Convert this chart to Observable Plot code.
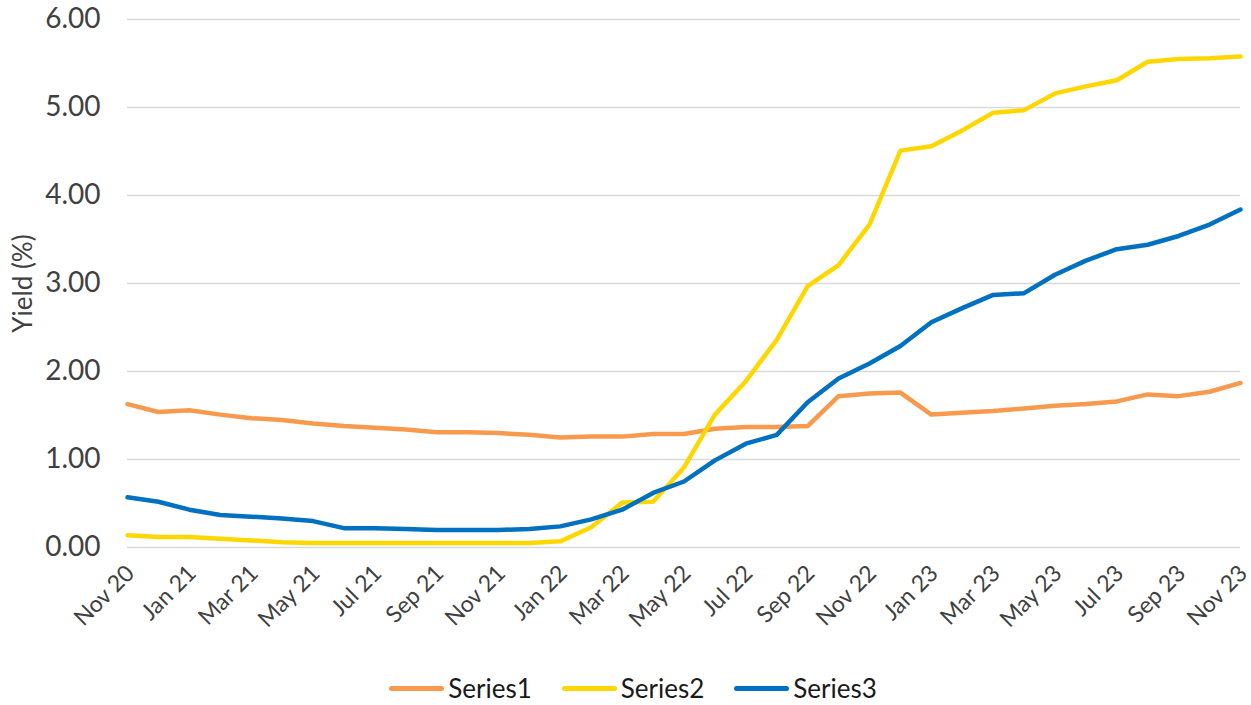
<!DOCTYPE html>
<html><head><meta charset="utf-8">
<script src="https://cdn.jsdelivr.net/npm/d3@7"></script>
<script src="https://cdn.jsdelivr.net/npm/@observablehq/plot@0.6"></script>
<style>
html,body{margin:0;padding:0;background:#fff;}
body{font-family:Lato,"Open Sans",sans-serif;width:1251px;overflow:hidden;}
#legend{display:flex;justify-content:center;align-items:center;height:45px;padding-top:11px;padding-left:15px;box-sizing:border-box;}
.item{display:flex;align-items:center;margin:0 15px;font-size:26px;color:#1a1a1a;}
.sw{width:55px;height:5px;border-radius:3px;margin-right:4px;}
</style></head><body>
<div id="chart"></div>
<div id="legend"></div>
<script>
const months = ["Nov 20","Dec 20","Jan 21","Feb 21","Mar 21","Apr 21","May 21","Jun 21","Jul 21","Aug 21","Sep 21","Oct 21","Nov 21","Dec 21","Jan 22","Feb 22","Mar 22","Apr 22","May 22","Jun 22","Jul 22","Aug 22","Sep 22","Oct 22","Nov 22","Dec 22","Jan 23","Feb 23","Mar 23","Apr 23","May 23","Jun 23","Jul 23","Aug 23","Sep 23","Oct 23","Nov 23"];
const seriesNames = ["Series1","Series2","Series3"];
const series1 = [1.63,1.54,1.56,1.51,1.47,1.45,1.41,1.38,1.36,1.34,1.31,1.31,1.30,1.28,1.25,1.26,1.26,1.29,1.29,1.35,1.37,1.37,1.38,1.72,1.75,1.76,1.51,1.53,1.55,1.58,1.61,1.63,1.66,1.74,1.72,1.77,1.87];
const series2 = [0.14,0.12,0.12,0.10,0.08,0.06,0.05,0.05,0.05,0.05,0.05,0.05,0.05,0.05,0.07,0.23,0.51,0.52,0.91,1.51,1.89,2.36,2.97,3.21,3.67,4.51,4.56,4.74,4.94,4.97,5.16,5.24,5.31,5.52,5.55,5.56,5.58];
const series3 = [0.57,0.52,0.43,0.37,0.35,0.33,0.30,0.22,0.22,0.21,0.20,0.20,0.20,0.21,0.24,0.32,0.43,0.62,0.75,0.99,1.18,1.28,1.65,1.92,2.09,2.29,2.56,2.72,2.87,2.89,3.10,3.26,3.39,3.44,3.54,3.67,3.84];
const colors = ["#F79A4E","#FFD700","#0070C0"];
const yTicks = [0,1,2,3,4,5,6];
const xTicks = months.filter((d,i)=>i%2===0);

const data = [];
[series1,series2,series3].forEach((vals,k)=>vals.forEach((v,i)=>data.push({month:months[i],value:v,series:seriesNames[k]})));

const chart = Plot.plot({
  width:1251, height:660,
  marginLeft:127, marginRight:11, marginTop:19, marginBottom:113,
  style:{fontFamily:"Lato, 'Open Sans', sans-serif", color:"#404040", background:"#fff", overflow:"visible"},
  x:{type:"point", domain:months, padding:0},
  y:{domain:[0,6]},
  color:{domain:seriesNames, range:colors},
  marks:[
    Plot.gridY(yTicks,{stroke:"#d9d9d9", strokeOpacity:1, strokeWidth:1.5}),
    Plot.axisY(yTicks,{tickSize:0, tickPadding:27, tickFormat:d3.format(".2f"), fontSize:28, label:null}),
    Plot.axisX(xTicks,{tickSize:0, tickRotate:-45, tickPadding:22, dx:3, fontSize:23, label:null}),
    Plot.text(["Yield (%)"],{frameAnchor:"left", textAnchor:"middle", dx:-104, rotate:-90, fontSize:26, fill:"#404040"}),
    Plot.line(data,{x:"month", y:"value", stroke:"series", strokeWidth:4.5, strokeLinejoin:"round", strokeLinecap:"round"})
  ]
});
document.getElementById("chart").appendChild(chart);

const legend = document.getElementById("legend");
seriesNames.forEach((name,i)=>{
  const it = document.createElement("div"); it.className="item";
  const sw = document.createElement("div"); sw.className="sw"; sw.style.background=colors[i];
  const tx = document.createElement("span"); tx.textContent=name;
  it.appendChild(sw); it.appendChild(tx); legend.appendChild(it);
});
</script>
</body></html>
